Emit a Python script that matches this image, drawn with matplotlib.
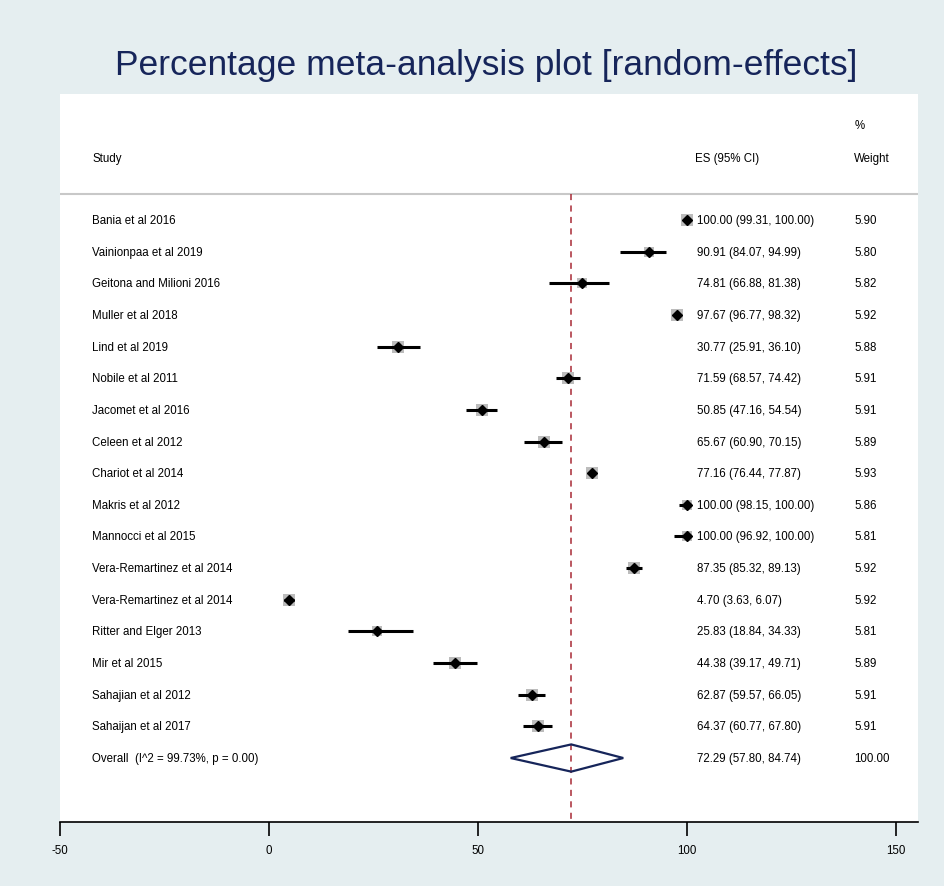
"""Forest plot: percentage meta-analysis, random-effects."""
import matplotlib

matplotlib.use("Agg")
import matplotlib.pyplot as plt
from matplotlib.patches import Polygon

studies = [
    "Bania et al 2016", "Vainionpaa et al 2019", "Geitona and Milioni 2016",
    "Muller et al 2018", "Lind et al 2019", "Nobile et al 2011",
    "Jacomet et al 2016", "Celeen et al 2012", "Chariot et al 2014",
    "Makris et al 2012", "Mannocci et al 2015", "Vera-Remartinez et al 2014",
    "Vera-Remartinez et al 2014", "Ritter and Elger 2013", "Mir et al 2015",
    "Sahajian et al 2012", "Sahaijan et al 2017",
]
es = [100.00, 90.91, 74.81, 97.67, 30.77, 71.59, 50.85, 65.67, 77.16,
      100.00, 100.00, 87.35, 4.70, 25.83, 44.38, 62.87, 64.37]
lo = [99.31, 84.07, 66.88, 96.77, 25.91, 68.57, 47.16, 60.90, 76.44,
      98.15, 96.92, 85.32, 3.63, 18.84, 39.17, 59.57, 60.77]
hi = [100.00, 94.99, 81.38, 98.32, 36.10, 74.42, 54.54, 70.15, 77.87,
      100.00, 100.00, 89.13, 6.07, 34.33, 49.71, 66.05, 67.80]
weight = [5.90, 5.80, 5.82, 5.92, 5.88, 5.91, 5.91, 5.89, 5.93,
          5.86, 5.81, 5.92, 5.92, 5.81, 5.89, 5.91, 5.91]

overall_label = "Overall  (I^2 = 99.73%, p = 0.00)"
overall_es, overall_lo, overall_hi = 72.29, 57.80, 84.74
xticks = [-50, 0, 50, 100, 150]

BG = "#e5eef0"
NAVY = "#16255a"
FS = 8.3

plt.rcParams["font.family"] = ["Liberation Sans", "DejaVu Sans"]

fig = plt.figure(figsize=(9.45, 8.87), dpi=100, facecolor=BG)
ax = fig.add_axes([0.0635, 0.0722, 0.908, 0.8207])
ax.set_facecolor("white")

n = len(studies)
ax.set_xlim(-50, 155.26)
ax.set_ylim(n + 2.02, -3.98)

# study rows: weight box, CI line, point estimate
for i in range(n):
    ax.plot(es[i], i, "s", color="#bcbcbc", markersize=weight[i] * 1.35,
            markeredgewidth=0, zorder=2)
    ax.plot([lo[i], hi[i]], [i, i], color="black", lw=2.2,
            solid_capstyle="butt", zorder=3)
    ax.plot(es[i], i, "D", color="black", markersize=4.6, zorder=4)
    ax.text(-42.3, i, studies[i], fontsize=FS, va="center", ha="left")
    ax.text(102.4, i, f"{es[i]:.2f} ({lo[i]:.2f}, {hi[i]:.2f})",
            fontsize=FS, va="center", ha="left")
    ax.text(140.0, i, f"{weight[i]:.2f}", fontsize=FS, va="center", ha="left")

# overall diamond
yo = n
ax.add_patch(Polygon([(overall_lo, yo), (overall_es, yo - 0.43),
                      (overall_hi, yo), (overall_es, yo + 0.43)],
                     closed=True, fill=False, edgecolor=NAVY, lw=1.6, zorder=3))
ax.text(-42.3, yo, overall_label, fontsize=FS, va="center", ha="left")
ax.text(102.4, yo, f"{overall_es:.2f} ({overall_lo:.2f}, {overall_hi:.2f})",
        fontsize=FS, va="center", ha="left")
ax.text(140.0, yo, "100.00", fontsize=FS, va="center", ha="left")

# headers
ax.text(-42.3, -1.96, "Study", fontsize=FS, va="center", ha="left")
ax.text(102.0, -1.96, "ES (95% CI)", fontsize=FS, va="center", ha="left")
ax.text(140.0, -1.96, "Weight", fontsize=FS, va="center", ha="left")
ax.text(140.0, -2.99, "%", fontsize=FS, va="center", ha="left")
ax.axhline(-0.82, color="#c8c8c8", lw=1.5, zorder=1)

# overall effect line
ax.plot([overall_es, overall_es], [-0.82, n + 2.02], color="#a82a35",
        lw=1.1, ls=(0, (4, 3.5)), zorder=1)

for s in ("top", "left", "right"):
    ax.spines[s].set_visible(False)
ax.spines["bottom"].set_linewidth(1.2)
ax.set_yticks([])
ax.set_xticks(xticks)
ax.set_xticklabels([str(t) for t in xticks])
ax.tick_params(axis="x", direction="out", length=10, width=1.2,
               labelsize=FS, pad=6)

fig.text(0.515, 0.926, "Percentage meta-analysis plot [random-effects]",
         ha="center", va="center", fontsize=25.5, color=NAVY)

fig.savefig("out.png", dpi=100, facecolor=BG)
